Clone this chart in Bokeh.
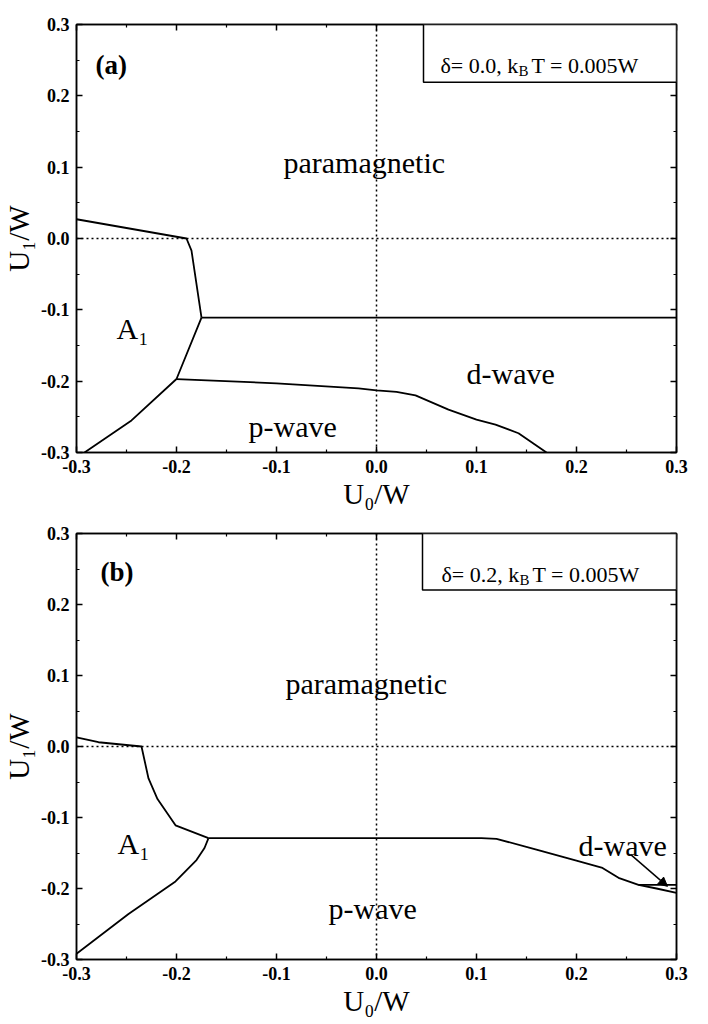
from bokeh.plotting import figure
from bokeh.layouts import column
from bokeh.models import (FixedTicker, LinearAxis, Span, Label, BoxAnnotation,
                          Arrow, NormalHead, CustomJSTickFormatter)
from bokeh.embed import file_html
from bokeh.resources import INLINE

# ---- data ----
tick_vals = [-0.3, -0.2, -0.1, 0.0, 0.1, 0.2, 0.3]
tick_labels = ["-0.3", "-0.2", "-0.1", "0.0", "0.1", "0.2", "0.3"]
minor_vals = [-0.25, -0.15, -0.05, 0.05, 0.15, 0.25]

# panel (a): delta = 0.0
a_para_a1_x = [-0.3, -0.19, -0.185, -0.175]
a_para_a1_y = [0.027, 0.0, -0.017, -0.111]
a_para_d_x = [-0.175, 0.3]
a_para_d_y = [-0.111, -0.111]
a_a1_p_x = [-0.175, -0.2, -0.245, -0.292]
a_a1_p_y = [-0.111, -0.197, -0.255, -0.3]
a_d_p_x = [-0.2, -0.1, -0.018, 0.0, 0.02, 0.039, 0.072, 0.100, 0.119, 0.142, 0.170]
a_d_p_y = [-0.197, -0.203, -0.210, -0.213, -0.215, -0.220, -0.240, -0.254, -0.261, -0.273, -0.3]

# panel (b): delta = 0.2
b_para_a1_x = [-0.3, -0.278, -0.235, -0.228, -0.219, -0.201, -0.168]
b_para_a1_y = [0.013, 0.006, 0.0, -0.045, -0.074, -0.111, -0.129]
b_para_p_x = [-0.168, 0.105, 0.12, 0.159, 0.199, 0.226, 0.242, 0.262, 0.3]
b_para_p_y = [-0.129, -0.129, -0.130, -0.145, -0.1605, -0.171, -0.185, -0.195, -0.195]
b_d_p_x = [0.262, 0.28, 0.3]
b_d_p_y = [-0.195, -0.200, -0.206]
b_a1_p_x = [-0.168, -0.172, -0.18, -0.201, -0.248, -0.3]
b_a1_p_y = [-0.129, -0.143, -0.160, -0.190, -0.236, -0.292]

FONT = "Liberation Serif"

LABEL_JS = """
let best = 0;
for (let i = 0; i < vals.length; i++) {
  if (Math.abs(vals[i] - tick) < Math.abs(vals[best] - tick)) best = i;
}
return labels[best];
"""


def make_fig(left, top, bottom, fh):
    p = figure(frame_width=600, frame_height=fh, x_range=(-0.3, 0.3), y_range=(-0.3, 0.3),
               output_backend="svg", toolbar_location=None,
               min_border_left=left, min_border_top=top, min_border_bottom=bottom,
               min_border_right=12, x_axis_location=None, y_axis_location=None)
    p.grid.visible = False
    p.outline_line_color = "black"
    p.outline_line_width = 1.5
    p.background_fill_color = "white"
    p.border_fill_color = "white"
    for loc in ["below", "left", "above", "right"]:
        if loc in ("below", "left"):
            ax = LinearAxis(ticker=FixedTicker(ticks=tick_vals, minor_ticks=minor_vals),
                            formatter=CustomJSTickFormatter(
                                args=dict(vals=tick_vals, labels=tick_labels), code=LABEL_JS),
                            major_label_text_font=FONT,
                            major_label_text_font_size="18px",
                            major_label_text_font_style="bold",
                            major_label_text_color="black",
                            major_label_standoff=7,
                            axis_label_text_font=FONT,
                            axis_label_text_font_size="29px",
                            axis_label_text_font_style="normal",
                            axis_label_text_color="black")
            if loc == "below":
                ax.axis_label = "U\u2080/W"
                ax.axis_label_standoff = 2
            else:
                ax.axis_label = "U\u2081/W"
                ax.axis_label_standoff = 3
        else:
            ax = LinearAxis(ticker=FixedTicker(ticks=tick_vals, minor_ticks=minor_vals),
                            formatter=CustomJSTickFormatter(code="return ''"),
                            major_label_standoff=0)
        ax.axis_line_color = "black"
        ax.axis_line_width = 1.5
        ax.major_tick_in = 6
        ax.major_tick_out = 0
        ax.minor_tick_in = 3
        ax.minor_tick_out = 0
        ax.major_tick_line_width = 1.5
        ax.minor_tick_line_width = 1.2
        p.add_layout(ax, loc)
    p.add_layout(Span(location=0, dimension="width", line_color="black",
                      line_dash="2 3", line_width=1.5))
    p.add_layout(Span(location=0, dimension="height", line_color="black",
                      line_dash="2 3", line_width=1.5))
    return p


def lab(p, x, y, text, size="30px", style="normal"):
    p.add_layout(Label(x=x, y=y, text=text, text_font=FONT, text_font_size=size,
                       text_font_style=style, text_color="black",
                       text_baseline="alphabetic", text_align="left"))


def legend(p, left, bottom, x0, xb, xt, yb, delta_txt):
    p.add_layout(BoxAnnotation(left=left, right=0.3, top=0.3, bottom=bottom,
                               fill_color="white", fill_alpha=1.0,
                               line_color="black", line_alpha=1.0, line_width=1.5))
    lab(p, x0, yb, "\u03b4= " + delta_txt + ", k", size="22px")
    lab(p, xb, yb - 0.007, "B", size="15px")
    lab(p, xt, yb, "T = 0.005W", size="22px")


LW = 1.8

# ---- panel (a) ----
pa = make_fig(73, 24, 60, 428)
pa.line(a_para_a1_x, a_para_a1_y, line_color="black", line_width=LW)
pa.line(a_para_d_x, a_para_d_y, line_color="black", line_width=LW)
pa.line(a_a1_p_x, a_a1_p_y, line_color="black", line_width=LW)
pa.line(a_d_p_x, a_d_p_y, line_color="black", line_width=LW)
lab(pa, -0.281, 0.243, "(a)", size="27px", style="bold")
lab(pa, -0.093, 0.1066, "paramagnetic")
lab(pa, -0.26, -0.126, "A\u2081")
lab(pa, 0.09, -0.189, "d-wave")
lab(pa, -0.128, -0.264, "p-wave")
legend(pa, 0.047, 0.219, 0.064, 0.142, 0.155, 0.2425, "0.0")

# ---- panel (b) ----
pb = make_fig(76, 21, 60, 426)
pb.line(b_para_a1_x, b_para_a1_y, line_color="black", line_width=LW)
pb.line(b_para_p_x, b_para_p_y, line_color="black", line_width=LW)
pb.line(b_d_p_x, b_d_p_y, line_color="black", line_width=LW)
pb.line(b_a1_p_x, b_a1_p_y, line_color="black", line_width=LW)
lab(pb, -0.276, 0.246, "(b)", size="27px", style="bold")
lab(pb, -0.091, 0.0885, "paramagnetic")
lab(pb, -0.259, -0.136, "A\u2081")
lab(pb, 0.202, -0.140, "d-wave")
lab(pb, -0.048, -0.2275, "p-wave")
pb.add_layout(Arrow(end=NormalHead(size=9, fill_color="black", line_color="black"),
                    x_start=0.254, y_start=-0.152, x_end=0.291, y_end=-0.197,
                    line_color="black", line_width=1.5))
legend(pb, 0.046, 0.2205, 0.065, 0.143, 0.156, 0.2416, "0.2")

layout = column(pa, pb)
open("out.html", "w").write(file_html(layout, INLINE))
